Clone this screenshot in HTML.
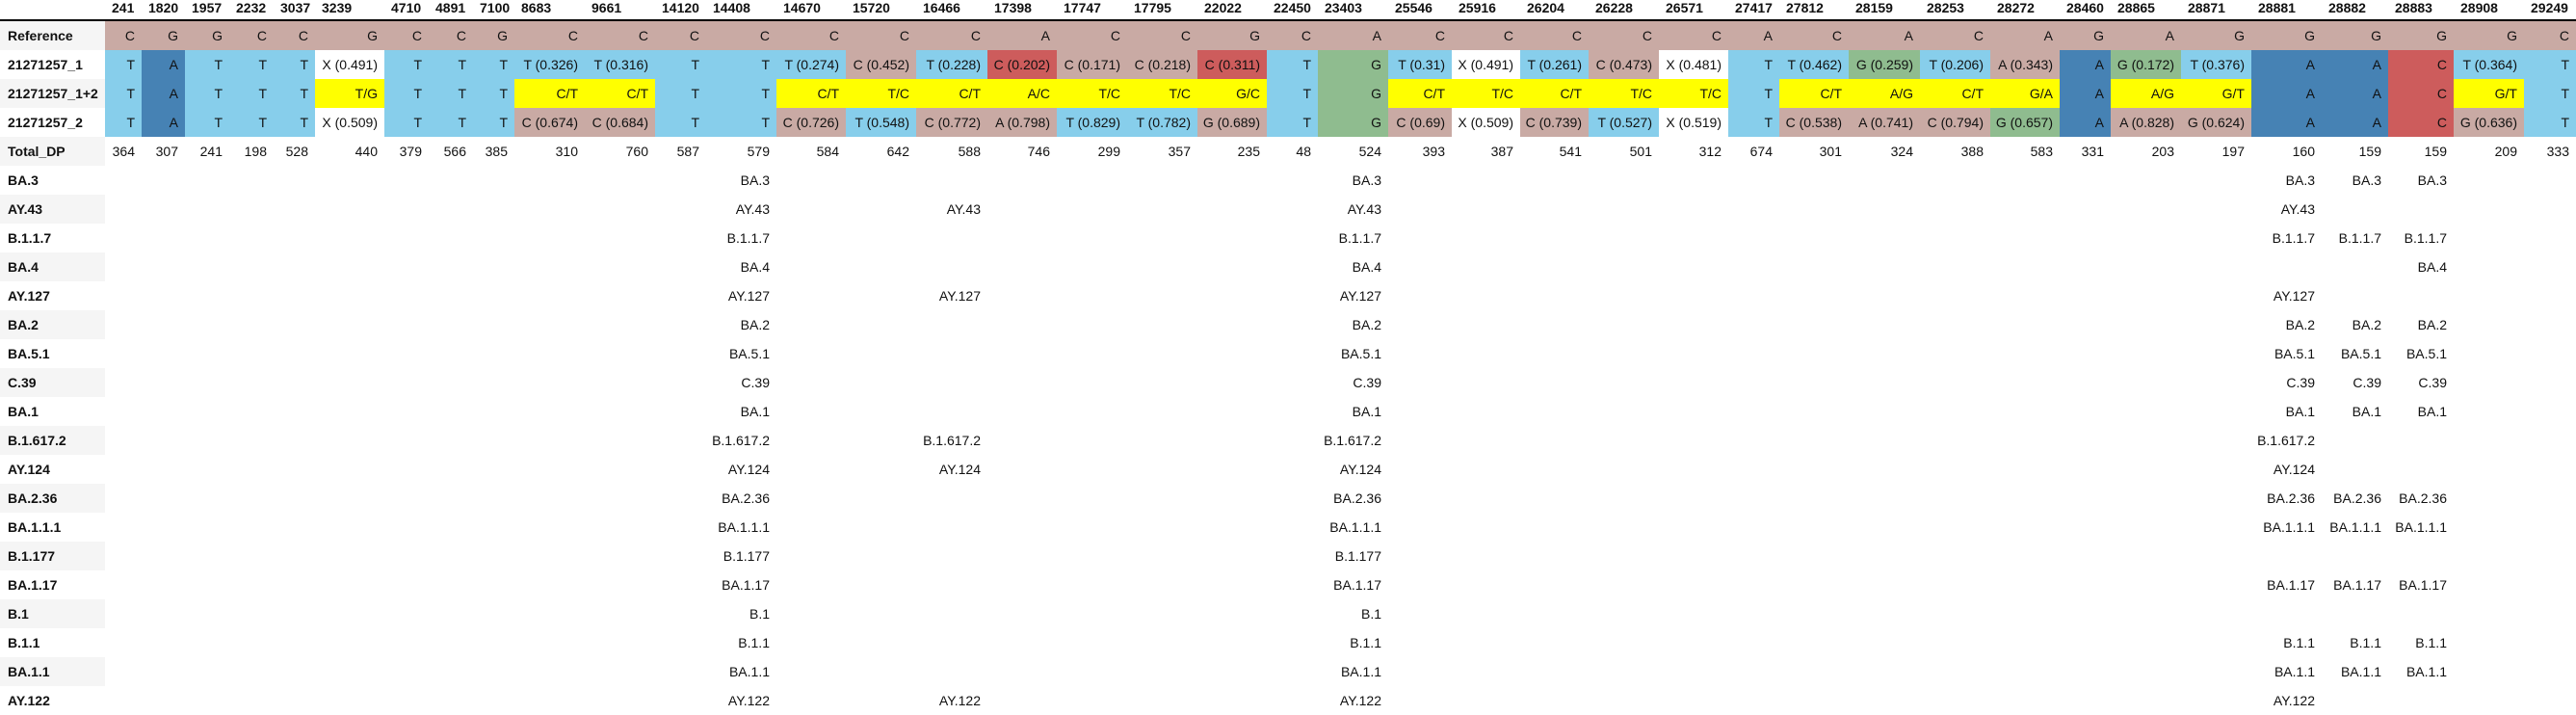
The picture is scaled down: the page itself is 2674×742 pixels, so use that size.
<!DOCTYPE html>
<html><head><meta charset="utf-8">
<style>
html,body{margin:0;padding:0;background:#fff;}
body{width:2674px;height:733px;overflow:hidden;position:relative;font-family:"Liberation Sans",sans-serif;font-size:14px;color:#111;}
.c{position:absolute;height:30px;line-height:30px;box-sizing:border-box;padding-right:7px;text-align:right;white-space:nowrap;}
.h{position:absolute;top:0;height:20px;line-height:16px;font-weight:bold;padding-left:7px;box-sizing:border-box;white-space:nowrap;}
.l{position:absolute;left:0;width:109px;height:30px;line-height:30px;padding-left:8px;box-sizing:border-box;font-weight:bold;}
#rule{position:absolute;left:0;top:20px;width:2674px;height:2px;background:#000;}
</style></head><body>
<div id="rule"></div>
<script>
const positions = ["241","1820","1957","2232","3037","3239","4710","4891","7100","8683","9661","14120","14408","14670","15720","16466","17398","17747","17795","22022","22450","23403","25546","25916","26204","26228","26571","27417","27812","28159","28253","28272","28460","28865","28871","28881","28882","28883","28908","29249"];
const colStarts = [109,147,192,238,284,327,399,445,491,534,607,680,733,806,878,951,1025,1097,1170,1243,1315,1368,1441,1507,1578,1649,1722,1794,1847,1919,1993,2066,2138,2191,2264,2337,2410,2479,2547,2620,2674];
const refRow = "C G G C C G C C G C C C C C C C A C C G C A C C C C C A C A C A G A G G G G G C".split(" ");
const sample1 = ["T","A","T","T","T","X (0.491)","T","T","T","T (0.326)","T (0.316)","T","T","T (0.274)","C (0.452)","T (0.228)","C (0.202)","C (0.171)","C (0.218)","C (0.311)","T","G","T (0.31)","X (0.491)","T (0.261)","C (0.473)","X (0.481)","T","T (0.462)","G (0.259)","T (0.206)","A (0.343)","A","G (0.172)","T (0.376)","A","A","C","T (0.364)","T"];
const sample1Col = "t a t t t w t t t t t t t t r t x r r x t g t w t r w t t g t r a g t a a x t t".split(" ");
const sample12 = ["T","A","T","T","T","T/G","T","T","T","C/T","C/T","T","T","C/T","T/C","C/T","A/C","T/C","T/C","G/C","T","G","C/T","T/C","C/T","T/C","T/C","T","C/T","A/G","C/T","G/A","A","A/G","G/T","A","A","C","G/T","T"];
const sample12Col = "t a t t t y t t t y y t t y y y y y y y t g y y y y y t y y y y a y y a a x y t".split(" ");
const sample2 = ["T","A","T","T","T","X (0.509)","T","T","T","C (0.674)","C (0.684)","T","T","C (0.726)","T (0.548)","C (0.772)","A (0.798)","T (0.829)","T (0.782)","G (0.689)","T","G","C (0.69)","X (0.509)","C (0.739)","T (0.527)","X (0.519)","T","C (0.538)","A (0.741)","C (0.794)","G (0.657)","A","A (0.828)","G (0.624)","A","A","C","G (0.636)","T"];
const sample2Col = "t a t t t w t t t r r t t r t r r t t r t g r w r t w t r r r g a r r a a x r t".split(" ");
const totalDP = [364,307,241,198,528,440,379,566,385,310,760,587,579,584,642,588,746,299,357,235,48,524,393,387,541,501,312,674,301,324,388,583,331,203,197,160,159,159,209,333];
const lineages = ["BA.3","AY.43","B.1.1.7","BA.4","AY.127","BA.2","BA.5.1","C.39","BA.1","B.1.617.2","AY.124","BA.2.36","BA.1.1.1","B.1.177","BA.1.17","B.1","B.1.1","BA.1.1","AY.122"];
const col16466 = ["AY.43","AY.127","B.1.617.2","AY.124","AY.122"];
const col28881 = ["BA.3","AY.43","B.1.1.7","AY.127","BA.2","BA.5.1","C.39","BA.1","B.1.617.2","AY.124","BA.2.36","BA.1.1.1","BA.1.17","B.1.1","BA.1.1","AY.122"];
const col28882 = ["BA.3","B.1.1.7","BA.2","BA.5.1","C.39","BA.1","BA.2.36","BA.1.1.1","BA.1.17","B.1.1","BA.1.1"];
const col28883 = ["BA.3","B.1.1.7","BA.4","BA.2","BA.5.1","C.39","BA.1","BA.2.36","BA.1.1.1","BA.1.17","B.1.1","BA.1.1"];
const palette = {r:"#c9aaa4",t:"#87ceeb",a:"#4682b4",y:"#ffff00",x:"#cd5c5c",g:"#8fbc8f",w:"#ffffff"};
const TOP = 22, RH = 30;
function rowY(i){return TOP + i*RH;}
function mk(cls, x, y, w, txt, bg){
  const d=document.createElement('div');
  d.className=cls;
  d.style.left=x+'px'; if(y!==null) d.style.top=y+'px';
  if(w!==null) d.style.width=w+'px';
  if(bg) d.style.background=bg;
  d.textContent=txt;
  document.body.appendChild(d);
  return d;
}
positions.forEach((p,j)=>{
  const d=mk('h',colStarts[j],null,colStarts[j+1]-colStarts[j],p,null);
  
  
});
const rowLabels=["Reference","21271257_1","21271257_1+2","21271257_2","Total_DP"].concat(lineages);
rowLabels.forEach((lab,i)=>{
  const d=mk('l',0,rowY(i),null,lab,i%2===0?'#f5f5f5':null);
  
  
});
function dataRow(i, vals, cols, name){
  vals.forEach((v,j)=>{
    const bg = cols ? palette[cols[j]] : null;
    const d=mk('c',colStarts[j],rowY(i),colStarts[j+1]-colStarts[j],String(v),bg);
    
    
  });
}
dataRow(0, refRow, refRow.map(()=>'r'), 'reference-cell');
dataRow(1, sample1, sample1Col, 'sample1-cell');
dataRow(2, sample12, sample12Col, 'sample1-2-cell');
dataRow(3, sample2, sample2Col, 'sample2-cell');
dataRow(4, totalDP, null, 'total-dp-cell');
function lineageCol(pos, list){
  const j=positions.indexOf(pos);
  lineages.forEach((lg,k)=>{
    if(list.indexOf(lg)<0) return;
    const d=mk('c',colStarts[j],rowY(5+k),colStarts[j+1]-colStarts[j],lg,null);
    
    
  });
}
lineageCol("14408", lineages);
lineageCol("16466", col16466);
lineageCol("23403", lineages);
lineageCol("28881", col28881);
lineageCol("28882", col28882);
lineageCol("28883", col28883);
</script>
</body></html>
